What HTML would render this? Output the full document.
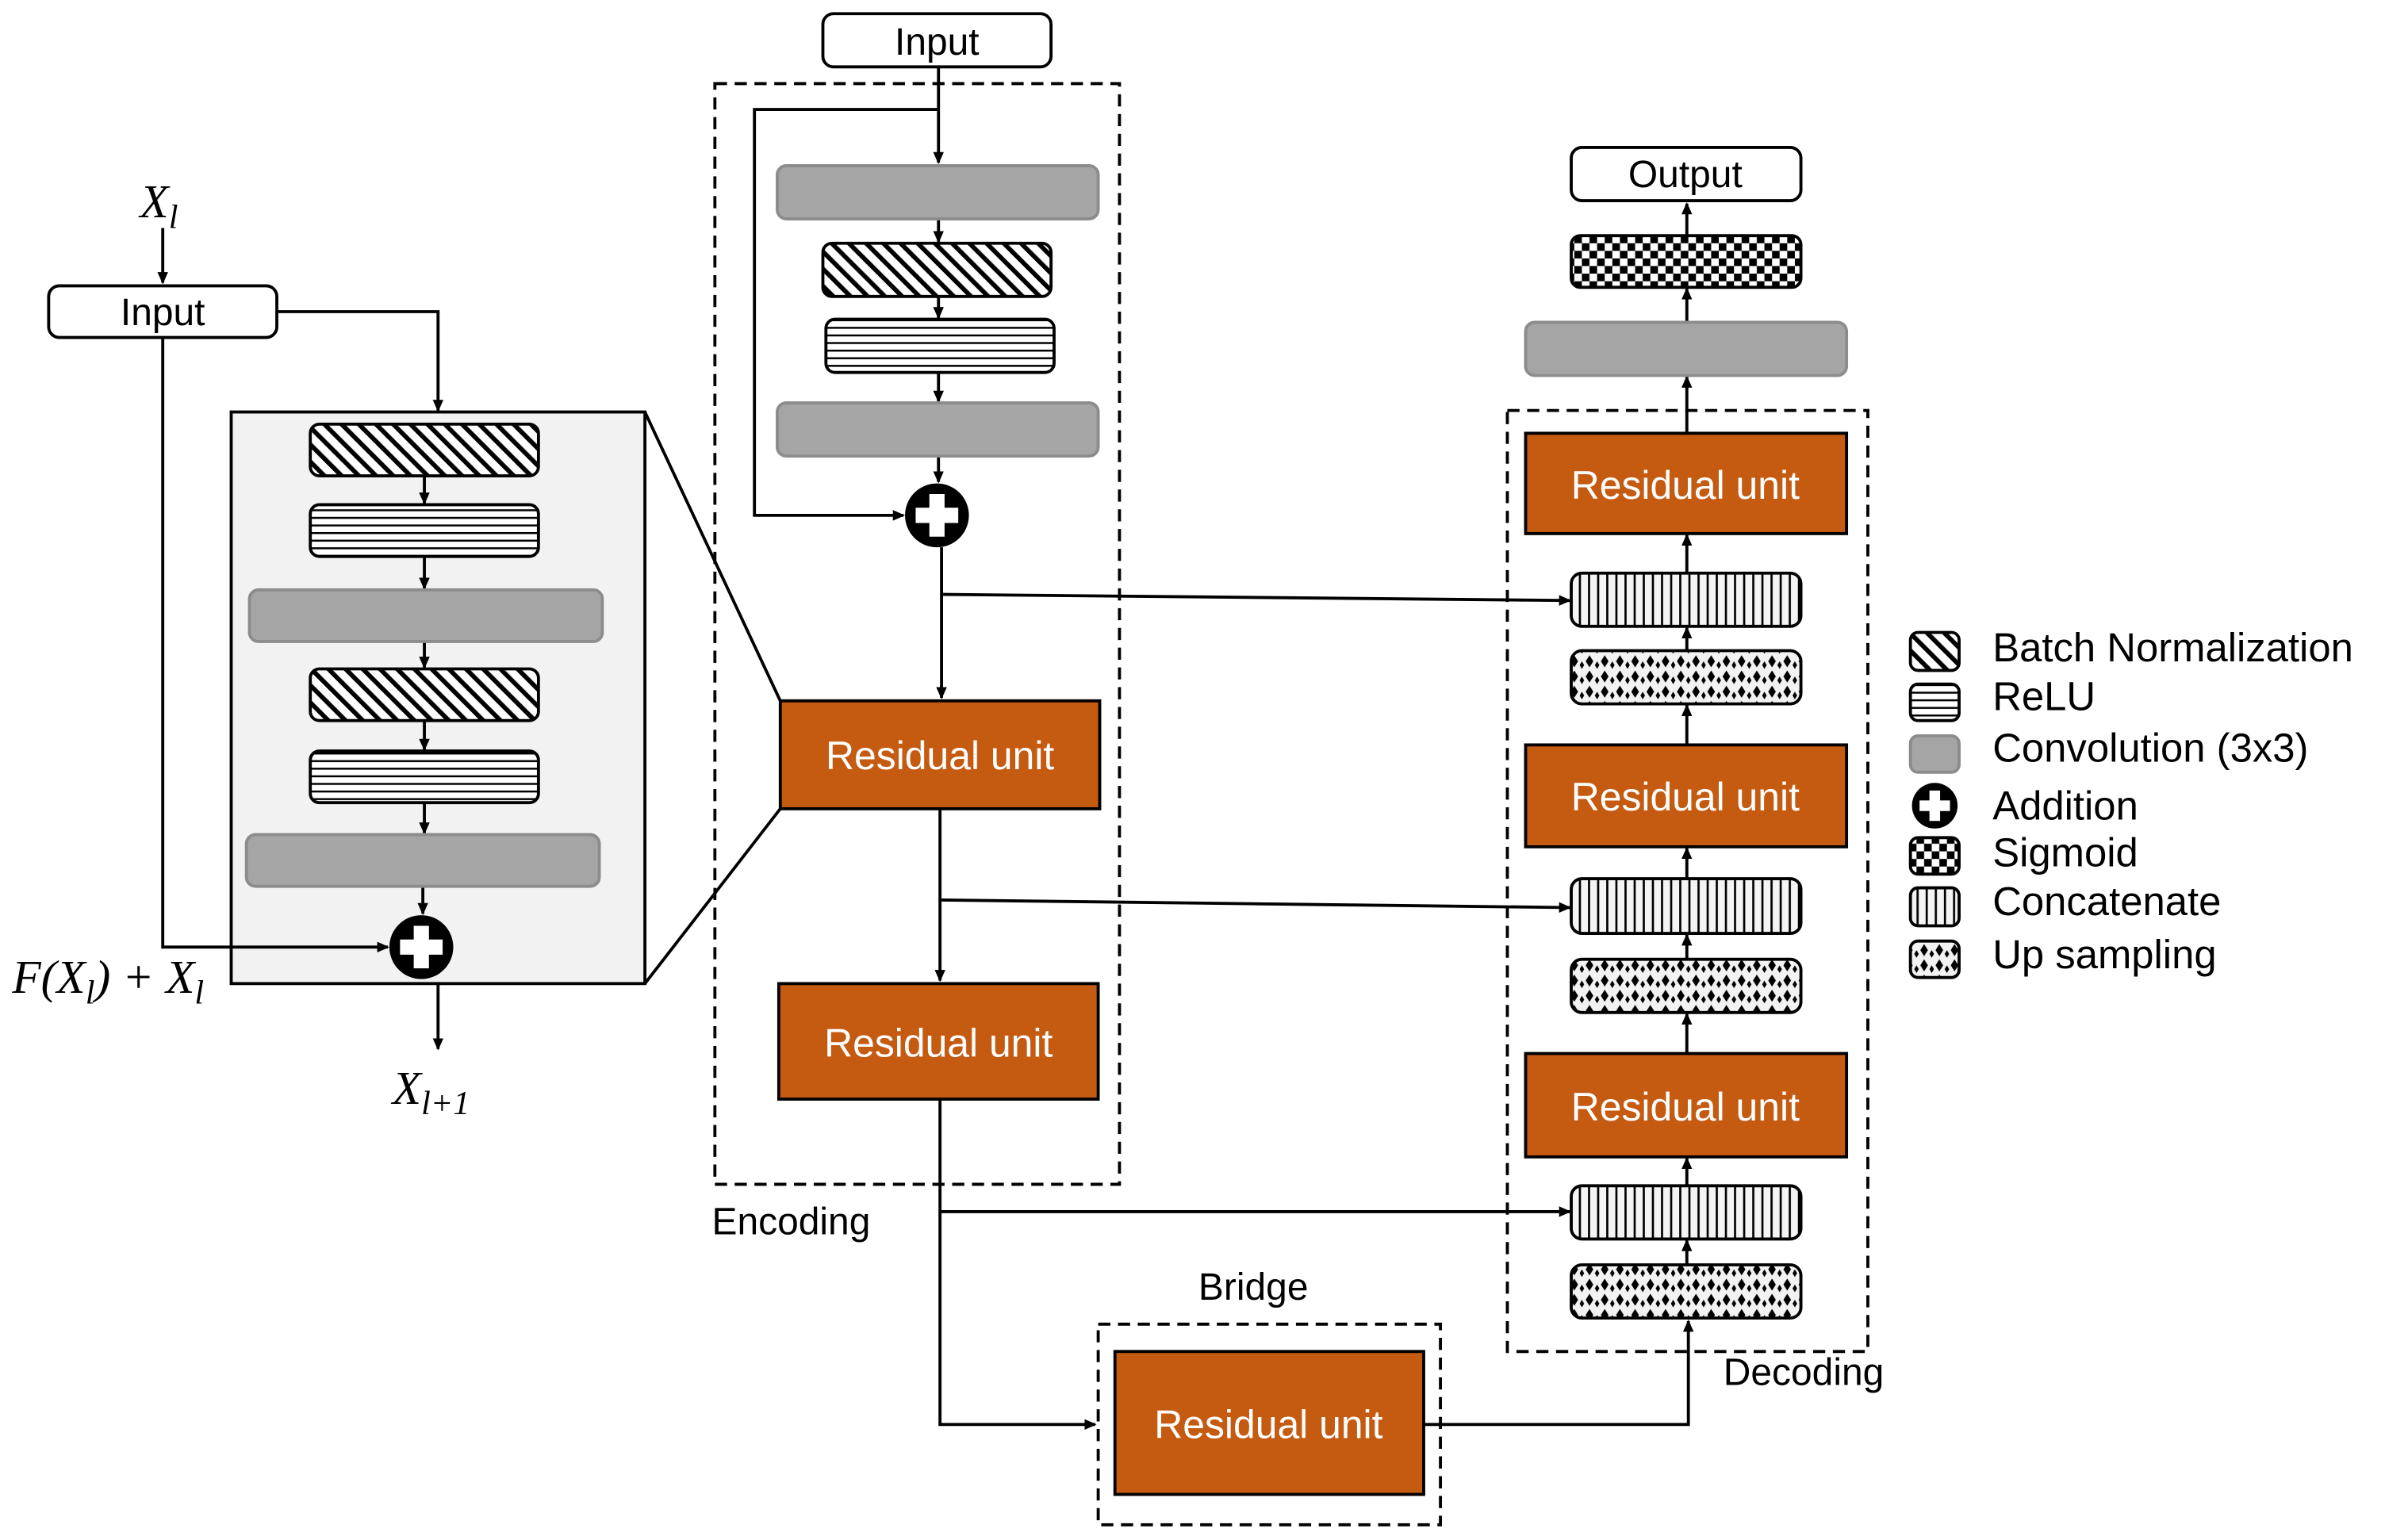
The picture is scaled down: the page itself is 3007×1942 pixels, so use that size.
<!DOCTYPE html>
<html><head><meta charset="utf-8"><style>
html,body{margin:0;padding:0;background:#fff;}
svg{display:block;}
text{font-family:"Liberation Sans",sans-serif;}
.lbl{font-size:25px;fill:#000;}
.lg{font-size:26.5px;fill:#000;}
.ru{font-size:26px;fill:#fff;text-anchor:middle;}
.m{font-family:"Liberation Serif",serif;font-style:italic;font-size:31px;}
</style></head><body>
<svg width="3007" height="1942" viewBox="0 0 1568 1013" preserveAspectRatio="none" xmlns="http://www.w3.org/2000/svg">
<defs>
<pattern id="bn" width="8" height="8" patternUnits="userSpaceOnUse" patternTransform="rotate(-45)"><rect width="8" height="8" fill="#fff"/><rect width="3" height="8" fill="#000"/></pattern>
<pattern id="relu" width="6" height="5" patternUnits="userSpaceOnUse"><rect width="6" height="5" fill="#fff"/><rect y="0" width="6" height="1.3" fill="#000"/></pattern>
<pattern id="cat" width="6" height="6" patternUnits="userSpaceOnUse"><rect width="6" height="6" fill="#f4f4f4"/><rect width="1.4" height="6" fill="#000"/></pattern>
<pattern id="sig" width="10" height="10" patternUnits="userSpaceOnUse"><rect width="10" height="10" fill="#fff"/><rect width="5" height="5" fill="#000"/><rect x="5" y="5" width="5" height="5" fill="#000"/></pattern>
<pattern id="up" width="10" height="10" patternUnits="userSpaceOnUse"><rect width="10" height="10" fill="#f2f2f2"/><path d="M5 1 L7.5 5 L5 9 L2.5 5Z" fill="#000"/><path d="M0 5 L1.5 7.5 L0 10Z M10 5 L8.5 7.5 L10 10Z" fill="#000"/></pattern>
<marker id="a" markerWidth="8" markerHeight="8" refX="7" refY="4" orient="auto" markerUnits="userSpaceOnUse"><path d="M0 0.5 L8 4 L0 7.5Z" fill="#000"/></marker>
</defs>
<g fill="none" stroke="#000" stroke-width="2">
<line x1="107" y1="150" x2="107" y2="186" marker-end="url(#a)"/>
<polyline points="182,205 288,205 288,270" marker-end="url(#a)"/>
<rect x="152" y="271" width="272" height="376" fill="#f2f2f2"/>
<polyline points="107,222 107,623 255,623" marker-end="url(#a)"/>
<line x1="424" y1="271" x2="513" y2="461"/><line x1="424" y1="647" x2="513" y2="532"/>
<line x1="279" y1="313" x2="279" y2="331" marker-end="url(#a)"/>
<line x1="279" y1="366" x2="279" y2="387" marker-end="url(#a)"/>
<line x1="279" y1="422" x2="279" y2="439" marker-end="url(#a)"/>
<line x1="279" y1="474" x2="279" y2="493" marker-end="url(#a)"/>
<line x1="279" y1="528" x2="279" y2="548" marker-end="url(#a)"/>
<line x1="278" y1="583" x2="278" y2="601" marker-end="url(#a)"/>
<line x1="288" y1="647" x2="288" y2="690" marker-end="url(#a)"/>
<rect x="470" y="55" width="266" height="724" stroke-dasharray="8,5"/>
<line x1="617" y1="44" x2="617" y2="107" marker-end="url(#a)"/>
<polyline points="617,72 496,72 496,339 594,339" marker-end="url(#a)"/>
<line x1="617" y1="144" x2="617" y2="159" marker-end="url(#a)"/>
<line x1="617" y1="195" x2="617" y2="209" marker-end="url(#a)"/>
<line x1="617" y1="245" x2="617" y2="264" marker-end="url(#a)"/>
<line x1="617" y1="300" x2="617" y2="317" marker-end="url(#a)"/>
<line x1="619" y1="360" x2="619" y2="459" marker-end="url(#a)"/>
<line x1="619" y1="391" x2="1032" y2="395" marker-end="url(#a)"/>
<line x1="618" y1="532" x2="618" y2="645" marker-end="url(#a)"/>
<line x1="619" y1="592" x2="1032" y2="597" marker-end="url(#a)"/>
<polyline points="618,723 618,937 720,937" marker-end="url(#a)"/>
<line x1="618" y1="797" x2="1032" y2="797" marker-end="url(#a)"/>
<rect x="722" y="871" width="225" height="132" stroke-dasharray="8,5"/>
<polyline points="936,937 1110,937 1110,869" marker-end="url(#a)"/>
<rect x="991" y="270" width="237" height="619" stroke-dasharray="8,5"/>
<line x1="1109" y1="155" x2="1109" y2="134" marker-end="url(#a)"/>
<line x1="1109" y1="212" x2="1109" y2="190" marker-end="url(#a)"/>
<line x1="1109" y1="285" x2="1109" y2="248" marker-end="url(#a)"/>
<line x1="1109" y1="377" x2="1109" y2="352" marker-end="url(#a)"/>
<line x1="1109" y1="428" x2="1109" y2="413" marker-end="url(#a)"/>
<line x1="1109" y1="490" x2="1109" y2="464" marker-end="url(#a)"/>
<line x1="1109" y1="578" x2="1109" y2="558" marker-end="url(#a)"/>
<line x1="1109" y1="631" x2="1109" y2="615" marker-end="url(#a)"/>
<line x1="1109" y1="693" x2="1109" y2="667" marker-end="url(#a)"/>
<line x1="1109" y1="780" x2="1109" y2="762" marker-end="url(#a)"/>
<line x1="1109" y1="832" x2="1109" y2="816" marker-end="url(#a)"/>
</g>
<g stroke="#000" stroke-width="2">
<rect x="32" y="188" width="150" height="34" rx="7" fill="#fff"/>
<rect x="204" y="279" width="150" height="34" rx="6" fill="url(#bn)"/>
<rect x="204" y="332" width="150" height="34" rx="6" fill="url(#relu)"/>
<rect x="164" y="388" width="232" height="34" rx="6" fill="#a5a5a5" stroke="#8c8c8c"/>
<rect x="204" y="440" width="150" height="34" rx="6" fill="url(#bn)"/>
<rect x="204" y="494" width="150" height="34" rx="6" fill="url(#relu)"/>
<rect x="162" y="549" width="232" height="34" rx="6" fill="#a5a5a5" stroke="#8c8c8c"/>
<rect x="541" y="9" width="150" height="35" rx="7" fill="#fff"/>
<rect x="511" y="109" width="211" height="35" rx="6" fill="#a5a5a5" stroke="#8c8c8c"/>
<rect x="541" y="160" width="150" height="35" rx="6" fill="url(#bn)"/>
<rect x="543" y="210" width="150" height="35" rx="6" fill="url(#relu)"/>
<rect x="511" y="265" width="211" height="35" rx="6" fill="#a5a5a5" stroke="#8c8c8c"/>
<rect x="513" y="461" width="210" height="71" fill="#c55a11"/>
<rect x="512" y="647" width="210" height="76" fill="#c55a11"/>
<rect x="733" y="889" width="203" height="94" fill="#c55a11"/>
<rect x="1033" y="97" width="151" height="35" rx="7" fill="#fff"/>
<rect x="1033" y="155" width="151" height="34" rx="6" fill="url(#sig)"/>
<rect x="1003" y="212" width="211" height="35" rx="6" fill="#a5a5a5" stroke="#8c8c8c"/>
<rect x="1003" y="285" width="211" height="66" fill="#c55a11"/>
<rect x="1033" y="377" width="151" height="35" rx="7" fill="url(#cat)"/>
<rect x="1033" y="428" width="151" height="35" rx="7" fill="url(#up)"/>
<rect x="1003" y="490" width="211" height="67" fill="#c55a11"/>
<rect x="1033" y="578" width="151" height="36" rx="7" fill="url(#cat)"/>
<rect x="1033" y="631" width="151" height="35" rx="7" fill="url(#up)"/>
<rect x="1003" y="693" width="211" height="68" fill="#c55a11"/>
<rect x="1033" y="780" width="151" height="35" rx="7" fill="url(#cat)"/>
<rect x="1033" y="832" width="151" height="35" rx="7" fill="url(#up)"/>
<rect x="1256" y="416" width="32" height="25" rx="5" fill="url(#bn)"/>
<rect x="1256" y="450" width="32" height="24" rx="5" fill="url(#relu)"/>
<rect x="1256" y="484" width="32" height="24" rx="5" fill="#a5a5a5" stroke="#8c8c8c"/>
<rect x="1256" y="551" width="32" height="24" rx="5" fill="url(#sig)"/>
<rect x="1256" y="584" width="32" height="25" rx="5" fill="url(#cat)"/>
<rect x="1256" y="619" width="32" height="24" rx="5" fill="url(#up)"/>
</g>
<g>
<circle cx="277" cy="623" r="21" fill="#000"/><path d="M272 609h10v9h9v10h-9v9h-10v-9h-9v-10h9z" fill="#fff"/>
<circle cx="616" cy="339" r="21" fill="#000"/><path d="M611 325h10v9h9v10h-9v9h-10v-9h-9v-10h9z" fill="#fff"/>
<circle cx="1272" cy="530" r="15" fill="#000"/><path d="M1268.5 520h7v6.5h6.5v7h-6.5v6.5h-7v-6.5h-6.5v-7h6.5z" fill="#fff"/>
</g>
<text x="107" y="214" class="lbl" text-anchor="middle">Input</text>
<text x="616" y="36" class="lbl" text-anchor="middle">Input</text>
<text x="1108" y="123" class="lbl" text-anchor="middle">Output</text>
<text x="618" y="506" class="ru">Residual unit</text>
<text x="617" y="695" class="ru">Residual unit</text>
<text x="834" y="946" class="ru">Residual unit</text>
<text x="1108" y="328" class="ru">Residual unit</text>
<text x="1108" y="533" class="ru">Residual unit</text>
<text x="1108" y="737" class="ru">Residual unit</text>
<text x="468" y="812" class="lbl">Encoding</text>
<text x="824" y="855" class="lbl" text-anchor="middle">Bridge</text>
<text x="1133" y="911" class="lbl">Decoding</text>
<text x="1310" y="435" class="lg">Batch Normalization</text>
<text x="1310" y="467" class="lg">ReLU</text>
<text x="1310" y="501" class="lg">Convolution (3x3)</text>
<text x="1310" y="539" class="lg">Addition</text>
<text x="1310" y="570" class="lg">Sigmoid</text>
<text x="1310" y="602" class="lg">Concatenate</text>
<text x="1310" y="637" class="lg">Up sampling</text>
<text x="92" y="143" class="m">X<tspan font-size="22" dy="7">l</tspan></text>
<text x="8" y="653" class="m">F(X<tspan font-size="22" dy="7">l</tspan><tspan dy="-7">) + X</tspan><tspan font-size="22" dy="7">l</tspan></text>
<text x="258" y="726" class="m">X<tspan font-size="22" dy="7">l+1</tspan></text>
</svg>
</body></html>
